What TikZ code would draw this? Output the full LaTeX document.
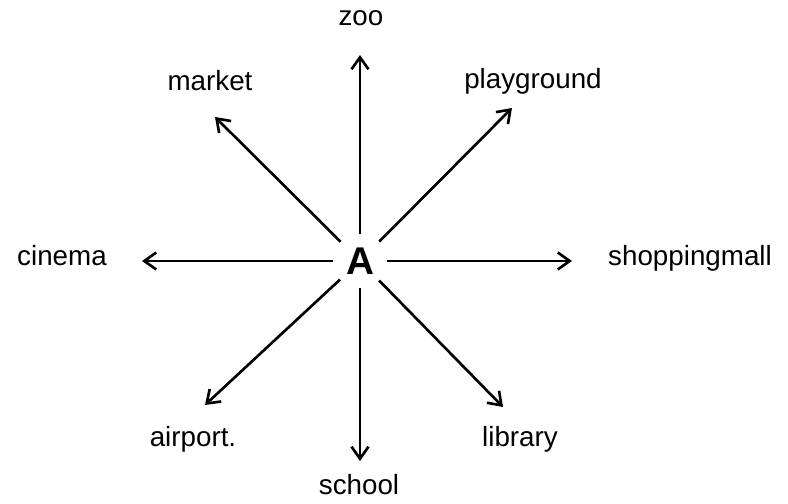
\documentclass[tikz,border=0pt]{standalone}
\usepackage{fontspec}
\setmainfont{Liberation Sans}
\usepackage{tikz}
\usetikzlibrary{arrows.meta}

\begin{document}
\begin{tikzpicture}[every node/.style={font=\fontsize{15.8}{19}\selectfont},
    place/.style={anchor=base},
    road/.style={line width=1.5pt, -{Straight Barb[length=2.4mm, width=3.4mm, line width=1.5pt]}}]
        \useasboundingbox (-7.2, -4.86) rectangle (8.56, 5.22);
        % Starting point
        \node[circle, inner sep=0pt, minimum size=1.08cm, font=\fontsize{22}{26}\selectfont\bfseries] (A) at (0, 0) {A};
        % Arrow tips
        \coordinate (tN) at (0, 4.12);
        \coordinate (tS) at (0, -4.0);
        \coordinate (tW) at (-4.36, 0);
        \coordinate (tE) at (4.24, 0);
        \coordinate (tNW) at (-2.9, 2.88);
        \coordinate (tNE) at (3.04, 3.06);
        \coordinate (tSW) at (-3.1, -2.88);
        \coordinate (tSE) at (2.86, -2.92);
        % Places
        \node[place] (zoo) at (0.02, 4.7) {zoo};
        \node[place] (school) at (-0.02, -4.68) {school};
        \node[place] (cinema) at (-5.96, -0.1) {cinema};
        \node[place, anchor=base west] (mall) at (4.84, -0.1) {shoppingmall};
        \node[place] (market) at (-3.0, 3.4) {market};
        \node[place] (playground) at (3.46, 3.44) {playground};
        \node[place] (airport) at (-3.34, -3.72) {airport.};
        \node[place] (library) at (3.2, -3.72) {library};
        % Directions
        \foreach \t in {tN, tS, tW, tE, tNW, tNE, tSW, tSE}
            \draw[road] (A) -- (\t);
      \end{tikzpicture}
\end{document}
